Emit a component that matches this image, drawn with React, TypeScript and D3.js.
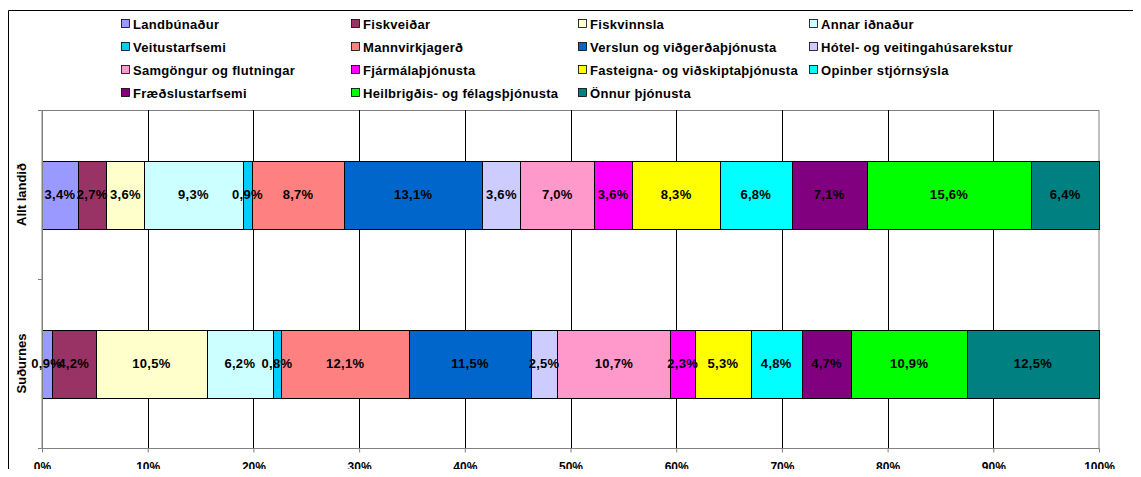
import React, { useRef, useEffect } from "react";
import * as d3 from "d3";

const categories = ["Allt landið", "Suðurnes"];

const sectors = [
  "Landbúnaður",
  "Fiskveiðar",
  "Fiskvinnsla",
  "Annar iðnaður",
  "Veitustarfsemi",
  "Mannvirkjagerð",
  "Verslun og viðgerðaþjónusta",
  "Hótel- og veitingahúsarekstur",
  "Samgöngur og flutningar",
  "Fjármálaþjónusta",
  "Fasteigna- og viðskiptaþjónusta",
  "Opinber stjórnsýsla",
  "Fræðslustarfsemi",
  "Heilbrigðis- og félagsþjónusta",
  "Önnur þjónusta",
];

const colors = [
  "#9999FF", "#993366", "#FFFFCC", "#CCFFFF", "#00CCFF",
  "#FF8080", "#0066CC", "#CCCCFF", "#FF99CC", "#FF00FF",
  "#FFFF00", "#00FFFF", "#800080", "#00FF00", "#008080",
];

const alltLandid = [3.4, 2.7, 3.6, 9.3, 0.9, 8.7, 13.1, 3.6, 7.0, 3.6, 8.3, 6.8, 7.1, 15.6, 6.4];
const sudurnes = [0.9, 4.2, 10.5, 6.2, 0.8, 12.1, 11.5, 2.5, 10.7, 2.3, 5.3, 4.8, 4.7, 10.9, 12.5];

const xTicks = [0, 0.1, 0.2, 0.3, 0.4, 0.5, 0.6, 0.7, 0.8, 0.9, 1];

const FONT = "'Liberation Sans', Arial, sans-serif";

const Chart = () => {
  const ref = useRef<SVGSVGElement | null>(null);

  useEffect(() => {
    if (!ref.current) return;
    const svg = d3.select(ref.current);
    svg.selectAll("*").remove();

    const W = 1141;
    const H = 477;
    const margin = { top: 110, right: 42, bottom: 29, left: 42 };
    const width = W - margin.left - margin.right;
    const height = H - margin.top - margin.bottom;

    // outer chart frame
    svg
      .append("path")
      .attr("d", `M8.5,${H}V10.5H${W}`)
      .attr("fill", "none")
      .attr("stroke", "#000")
      .attr("stroke-width", 1);

    // legend
    const legend = svg.append("g");
    const colX = [121, 351, 578, 809];
    const rowY = [24, 47, 70, 93];
    sectors.forEach((s, i) => {
      const g = legend
        .append("g")
        .attr("transform", `translate(${colX[i % 4]},${rowY[Math.floor(i / 4)]})`);
      g.append("rect")
        .attr("x", 0.5)
        .attr("y", -4.5)
        .attr("width", 8)
        .attr("height", 8)
        .attr("fill", colors[i])
        .attr("stroke", "#000")
        .attr("stroke-width", 0.8);
      g.append("text")
        .attr("x", 12)
        .attr("y", 0)
        .attr("dy", "0.35em")
        .style("font-family", FONT)
        .style("font-weight", "bold")
        .style("font-size", "13px")
        .style("letter-spacing", "0.3px")
        .text(s);
    });

    const chart = svg
      .append("g")
      .attr("transform", `translate(${margin.left},${margin.top})`);

    const x = d3.scaleLinear().domain([0, 1]).range([0, width]);
    const y = d3.scaleBand().domain(categories).range([0, height]).paddingInner(0.6).paddingOuter(0.3);

    // plot area border
    chart
      .append("rect")
      .attr("x", 0)
      .attr("y", 0.5)
      .attr("width", width)
      .attr("height", height)
      .attr("fill", "none")
      .attr("stroke", "#808080");

    // gridlines
    chart
      .append("g")
      .selectAll("line")
      .data(xTicks.slice(1, -1))
      .enter()
      .append("line")
      .attr("x1", (d) => Math.round(x(d)) + 0.5)
      .attr("x2", (d) => Math.round(x(d)) + 0.5)
      .attr("y1", 0)
      .attr("y2", height)
      .attr("stroke", "#000");

    const rows = [alltLandid, sudurnes];
    rows.forEach((vals, ci) => {
      const total = d3.sum(vals);
      const cum = d3.cumsum(vals.map((v) => v / total));
      const g = chart.append("g");
      const segs = vals.map((v, i) => ({
        v,
        x0: i === 0 ? 0 : cum[i - 1],
        x1: cum[i],
        color: colors[i],
      }));
      const by = y(categories[ci]) || 0;
      g.selectAll("rect")
        .data(segs)
        .enter()
        .append("rect")
        .attr("x", (d) => Math.round(x(d.x0)) + 0.5)
        .attr("y", Math.round(by) + 0.5)
        .attr("width", (d) => Math.round(x(d.x1)) - Math.round(x(d.x0)))
        .attr("height", Math.round(y.bandwidth()))
        .attr("fill", (d) => d.color)
        .attr("stroke", "#000")
        .attr("stroke-width", 1);
      g.selectAll("text")
        .data(segs)
        .enter()
        .append("text")
        .attr("x", (d) => x((d.x0 + d.x1) / 2))
        .attr("y", by + y.bandwidth() / 2)
        .attr("dy", "0.35em")
        .attr("text-anchor", "middle")
        .style("font-family", FONT)
        .style("font-weight", "bold")
        .style("font-size", "13px")
        .style("letter-spacing", "0.3px")
        .text((d) => d.v.toFixed(1).replace(".", ",") + "%");
    });

    // y axis
    chart
      .append("line")
      .attr("x1", 0.5)
      .attr("x2", 0.5)
      .attr("y1", 0)
      .attr("y2", height + 4)
      .attr("stroke", "#808080");
    [0, height / 2, height].forEach((t) => {
      chart
        .append("line")
        .attr("x1", -4)
        .attr("x2", 0)
        .attr("y1", Math.round(t) + 0.5)
        .attr("y2", Math.round(t) + 0.5)
        .attr("stroke", "#808080");
    });
    chart
      .selectAll(".cat")
      .data(categories)
      .enter()
      .append("text")
      .attr("class", "cat")
      .attr(
        "transform",
        (d) => `translate(-21,${(y(d) || 0) + y.bandwidth() / 2}) rotate(-90)`
      )
      .attr("text-anchor", "middle")
      .attr("dy", "0.35em")
      .style("font-family", FONT)
      .style("font-weight", "bold")
      .style("font-size", "13px")
      .text((d) => d);

    // x axis
    chart
      .append("g")
      .attr("transform", `translate(0,${height + 0.5})`)
      .call(
        d3
          .axisBottom(x)
          .tickValues(xTicks)
          .tickSize(4)
          .tickPadding(10)
          .tickFormat((d) => `${Math.round((d as number) * 100)}%`)
      )
      .call((g) => g.select(".domain").attr("stroke", "#808080").attr("d", `M-4,0H${width}`))
      .call((g) => g.selectAll(".tick line").attr("stroke", "#808080"))
      .selectAll("text")
      .style("font-family", FONT)
      .style("font-weight", "bold")
      .style("font-size", "12px")
      .style("fill", "#000");
  }, []);

  return <svg ref={ref} width={1141} height={477} style={{ display: "block" }} />;
};

export default function App() {
  return (
    <div style={{ margin: -8 }}>
      <Chart />
    </div>
  );
}
